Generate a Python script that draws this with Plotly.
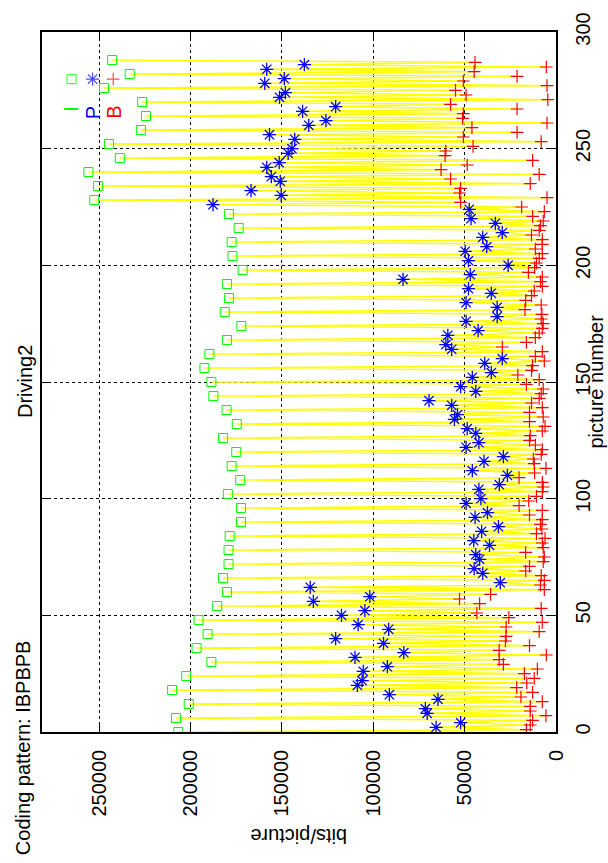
import plotly.graph_objects as go

# Frame types repeat with the coding pattern (display order)
coding_pattern = "IBPBPB"

# bits per picture for the I pictures (0, 6, 12, ... 288)
i_bits = [206700, 208000, 201000, 210100, 202400, 188600, 196700, 190700, 195600,
          185400, 180100, 182200, 179200, 179200, 178600, 172400, 172400, 179600,
          172800, 177500, 175000, 182200, 174700, 180300, 187500, 188600, 192400,
          189700, 180100, 172200, 181300, 179000, 180100, 171500, 177100, 177500,
          173700, 179000, 252700, 250600, 255900, 238700, 244600, 227200, 224400,
          226500, 247400, 233300, 242900]

# bits per picture for the P pictures (2, 4, 8, 10, ...)
p_bits = [65600, 52200, 70500, 71500, 64600, 91200, 108700, 106100, 105500, 92300,
          110000, 83300, 94400, 120600, 91600, 108300, 117400, 104600, 132800, 101900,
          134500, 30500, 40100, 44800, 41800, 43900, 36400, 45000, 40700, 31500,
          44300, 37500, 49200, 41100, 42200, 31000, 26600, 45800, 39400, 28800,
          49200, 42200, 43900, 48600, 55600, 53900, 57100, 69500, 43900, 52200,
          45800, 35400, 39000, 29400, 57100, 60300, 59200, 42600, 49200, 32200,
          32200, 49200, 35400, 47900, 83700, 46900, 26200, 47900, 49700, 37900,
          40100, 29400, 33200, 46500, 47500, 187700, 150400, 166900, 150900, 155800,
          158300, 151500, 146600, 144500, 143000, 156800, 135300, 125900, 138700, 120600,
          151300, 148100, 159400, 148700, 158300, 137700]

# bits per picture for the B pictures (1, 3, 5, 7, ...)
b_bits = [16200, 14100, 12800, 5500, 14100, 14100, 7500, 19200, 12800, 21500,
          16000, 11900, 17300, 10200, 28800, 31100, 5300, 31100, 14500, 27700,
          27300, 9200, 27300, 7500, 25800, 43300, 8100, 41800, 52800, 35800,
          6400, 8500, 6400, 8100, 16600, 14500, 7000, 6400, 16600, 7000,
          7500, 6000, 10700, 7700, 8500, 7500, 14500, 7500, 20200, 14900,
          10700, 7500, 7000, 7500, 20200, 11700, 5500, 11900, 12400, 8100,
          7500, 11300, 14500, 14100, 7500, 6000, 14500, 7000, 14500, 7500,
          13400, 9200, 8100, 7000, 16200, 9200, 20900, 13400, 12800, 6400,
          11300, 7500, 29400, 16200, 11300, 9200, 7500, 7000, 8100, 7700,
          17000, 8100, 16600, 13400, 11900, 7500, 8500, 7500, 15100, 11700,
          10700, 9200, 7500, 11300, 7500, 7500, 13400, 9200, 8500, 7000,
          12800, 6400, 18800, 52200, 4900, 52800, 52200, 14100, 57700, 9200,
          62900, 48600, 12800, 60700, 60300, 45400, 8100, 50700, 21300, 46000,
          4900, 51100, 50700, 21300, 57700, 4500, 49200, 55000, 4900, 50700,
          21300, 44800, 5300, 44300]

x_ticks = [0, 50000, 100000, 150000, 200000, 250000]
y_ticks = [0, 50, 100, 150, 200, 250, 300]
x_max = 281300

# Rebuild the full picture sequence from the pattern
n_pics = len(i_bits) + len(p_bits) + len(b_bits)
series = {"I": i_bits, "P": p_bits, "B": b_bits}
pics = {"I": [], "P": [], "B": []}
all_bits = []
counters = {"I": 0, "P": 0, "B": 0}
for k in range(n_pics):
    t = coding_pattern[k % len(coding_pattern)]
    pics[t].append(k)
    all_bits.append(series[t][counters[t]])
    counters[t] += 1

FONT = "Liberation Sans, Arial, Helvetica, sans-serif"
GREEN, BLUE, RED, YELLOW = "#00ff00", "#0000ff", "#ff0000", "#ffff00"

fig = go.Figure()

# Yellow trace through every picture in order
fig.add_trace(go.Scatter(x=all_bits, y=list(range(n_pics)), mode="lines",
                         line=dict(color=YELLOW, width=1.5), hoverinfo="skip",
                         showlegend=False))

fig.add_trace(go.Scatter(x=i_bits, y=pics["I"], mode="markers", name="I",
                         marker=dict(symbol="square-open", size=9, color=GREEN,
                                     line=dict(width=1, color=GREEN)),
                         showlegend=False))
fig.add_trace(go.Scatter(x=p_bits, y=pics["P"], mode="markers", name="P",
                         marker=dict(symbol="asterisk-open", size=11, color=BLUE,
                                     line=dict(width=1.3, color=BLUE)),
                         showlegend=False))
fig.add_trace(go.Scatter(x=b_bits, y=pics["B"], mode="markers", name="B",
                         marker=dict(symbol="cross-thin-open", size=9, color=RED,
                                     line=dict(width=1.2, color=RED)),
                         showlegend=False))

# Key (rotated): samples on an overlay axis spanning the plot area
key_names = ["I", "P", "B"]
key_colors = [GREEN, BLUE, RED]
key_symbols = ["square-open", "asterisk-open", "cross-thin-open"]
key_sizes = [9, 11, 9]
key_x = [0.0575, 0.0984, 0.1385]
fig.add_trace(go.Scatter(x=key_x, y=[0.9327] * 3, xaxis="x2", yaxis="y2",
                         mode="markers", hoverinfo="skip", showlegend=False,
                         marker=dict(symbol=key_symbols, size=key_sizes, color=key_colors,
                                     line=dict(width=1.2, color=key_colors))))

axis_common = dict(
    ticks="inside", ticklen=9, tickwidth=1, tickcolor="black",
    showline=True, linecolor="black", linewidth=1.5, mirror="ticks",
    showgrid=True, gridcolor="black", griddash="dot", gridwidth=1,
    zeroline=False, tickangle=-90,
    tickfont=dict(family=FONT, size=20, color="black"),
)

fig.update_layout(
    width=608, height=863,
    margin=dict(l=42, r=52, t=29, b=131),
    paper_bgcolor="white", plot_bgcolor="white",
    font=dict(family=FONT, size=20, color="black"),
    xaxis=dict(range=[x_max, 0], tickvals=x_ticks,
               ticktext=[str(v) for v in x_ticks], ticklabelstandoff=8,
               **axis_common),
    yaxis=dict(range=[0, 300], side="right", tickvals=y_ticks,
               ticktext=[str(v) for v in y_ticks], ticklabelstandoff=8,
               **axis_common),
    xaxis2=dict(range=[0, 1], overlaying="x", visible=False),
    yaxis2=dict(range=[0, 1], overlaying="y", visible=False),
)

annotations = [
    dict(text="bits/picture", x=0.5, y=-0.1475, textangle=180,
         xanchor="center", yanchor="middle"),
    dict(text="picture number", x=1.077, y=0.5, textangle=-90,
         xanchor="center", yanchor="middle"),
    dict(text="Driving2", x=-0.033, y=0.5, textangle=-90,
         xanchor="center", yanchor="middle"),
    dict(text="Coding pattern: IBPBPB", x=-0.038, y=-0.1788, textangle=-90,
         xanchor="center", yanchor="bottom"),
]
for name, color, kx in zip(key_names, key_colors, key_x):
    annotations.append(dict(text=name, x=kx, y=0.897, textangle=-90,
                            xanchor="center", yanchor="top",
                            font=dict(family=FONT, size=20, color=color)))
for a in annotations:
    a.update(xref="paper", yref="paper", showarrow=False)
    a.setdefault("font", dict(family=FONT, size=20, color="black"))
fig.update_layout(annotations=annotations)

fig.write_html("out.html")
